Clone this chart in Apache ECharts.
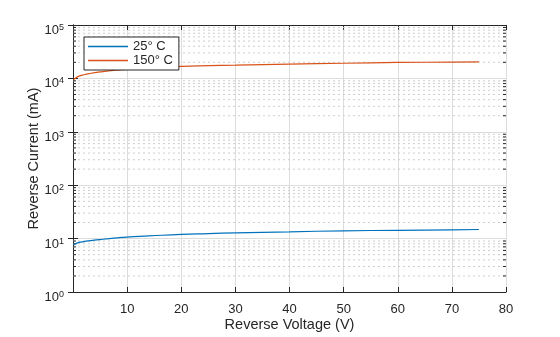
<!DOCTYPE html>
<html>
<head>
<meta charset="utf-8">
<script src="https://cdn.jsdelivr.net/npm/echarts@6/dist/echarts.min.js"></script>
<style>html,body{margin:0;padding:0;background:#fff}#c{width:560px;height:337px}</style>
</head>
<body>
<div id="c"></div>
<script>
// Data
const voltage = [0.1, 0.5, 1, 2, 3, 5, 8, 10, 14, 20, 25, 30, 40, 50, 60, 70, 75];
const current25 = [7.6, 8.0, 8.4, 8.8, 9.1, 9.6, 10.3, 10.7, 11.2, 12.0, 12.4, 12.8, 13.4, 14.0, 14.3, 14.6, 14.8];
const current150 = [9450, 10200, 10900, 11700, 12300, 13200, 14300, 14800, 15700, 16800, 17300, 17700, 18500, 19200, 19900, 20200, 20400];
const seriesNames = ['25° C', '150° C'];
const xTicks = [0, 10, 20, 30, 40, 50, 60, 70, 80];
const yDecades = [0, 1, 2, 3, 4, 5];
const minorMultipliers = [2, 3, 4, 5, 6, 7, 8, 9];

const minorValues = [];
for (let k = 0; k < 5; k++) {
  for (const m of minorMultipliers) minorValues.push([0, m * Math.pow(10, k)]);
}

const axisColor = '#262626';
const font = 'Liberation Sans, Arial, Helvetica, sans-serif';

const chart = echarts.init(document.getElementById('c'), null, {renderer: 'canvas'});
const zip = (xs, ys) => xs.map((x, i) => [x, ys[i]]);

const option = {
  animation: false,
  backgroundColor: '#fff',
  textStyle: {fontFamily: font},
  grid: {left: 73, right: 54, top: 25, bottom: 39, containLabel: false},
  legend: {
    data: seriesNames.map(n => ({name: n, icon: 'rect'})),
    orient: 'vertical',
    left: 84, top: 37,
    itemWidth: 40, itemHeight: 1.5, itemGap: 1,
    backgroundColor: '#fff',
    borderColor: axisColor, borderWidth: 1,
    padding: [3, 6, 3, 4],
    textStyle: {fontSize: 13, color: axisColor, fontFamily: font}
  },
  xAxis: [{
    type: 'value', min: xTicks[0], max: xTicks[xTicks.length - 1], interval: 10,
    name: 'Reverse Voltage (V)', nameLocation: 'middle', nameGap: 25, nameMoveOverlap: false,
    nameTextStyle: {fontSize: 14.5, color: axisColor, fontFamily: font},
    axisLine: {show: true, lineStyle: {color: axisColor, width: 1}},
    axisTick: {show: true, inside: true, length: 5, lineStyle: {color: axisColor}},
    axisLabel: {fontSize: 13, color: axisColor, margin: 11, fontFamily: font,
      formatter: v => (v === 0 ? '' : String(v))},
    splitLine: {show: true, lineStyle: {color: '#dcdcdc', width: 1}}
  }, {
    type: 'value', position: 'top', min: xTicks[0], max: xTicks[xTicks.length - 1], interval: 10,
    axisLine: {show: true, lineStyle: {color: axisColor, width: 1}},
    axisTick: {show: true, inside: true, length: 5, lineStyle: {color: axisColor}},
    axisLabel: {show: false},
    splitLine: {show: false}
  }],
  yAxis: [{
    type: 'log', logBase: 10, min: 1, max: 100000,
    name: 'Reverse Current (mA)', nameLocation: 'middle', nameGap: 32, nameMoveOverlap: false,
    nameTextStyle: {fontSize: 14.5, color: axisColor, fontFamily: font},
    axisLine: {show: true, lineStyle: {color: axisColor, width: 1}},
    axisTick: {show: true, inside: true, length: 5, lineStyle: {color: axisColor}},
    axisLabel: {
      fontSize: 13, color: axisColor, margin: 9, fontFamily: font,
      padding: [11, 0, 0, 0],
      formatter: v => '{b|10}{s|' + Math.round(Math.log10(v)) + '}',
      rich: {
        b: {fontSize: 13, color: axisColor, fontFamily: font, lineHeight: 15},
        s: {fontSize: 9, color: axisColor, fontFamily: font, verticalAlign: 'top', lineHeight: 15, padding: [0, 0, 6, 0]}
      }
    },
    splitLine: {show: true, lineStyle: {color: '#dcdcdc', width: 1}}
  }, {
    type: 'log', logBase: 10, min: 1, max: 100000, position: 'right',
    axisLine: {show: true, lineStyle: {color: axisColor, width: 1}},
    axisTick: {show: true, inside: true, length: 5, lineStyle: {color: axisColor}},
    axisLabel: {show: false},
    splitLine: {show: false}
  }],
  series: [{
    type: 'custom',
    silent: true,
    z: 1,
    xAxisIndex: 0, yAxisIndex: 0,
    data: minorValues,
    renderItem: function (params, api) {
      const y = api.coord([0, api.value(1)])[1];
      const cs = params.coordSys;
      const x0 = cs.x, x1 = cs.x + cs.width;
      return {
        type: 'group',
        children: [
          {type: 'line', shape: {x1: x0, y1: y, x2: x1, y2: y},
            style: {stroke: '#cdcdcd', lineWidth: 1, lineDash: [2, 3]}},
          {type: 'line', shape: {x1: x0, y1: y, x2: x0 + 3, y2: y},
            style: {stroke: axisColor, lineWidth: 1}},
          {type: 'line', shape: {x1: x1 - 3, y1: y, x2: x1, y2: y},
            style: {stroke: axisColor, lineWidth: 1}}
        ]
      };
    }
  }, {
    name: seriesNames[0], type: 'line', xAxisIndex: 0, yAxisIndex: 0,
    data: zip(voltage, current25), smooth: true, showSymbol: false, symbol: 'none', z: 3,
    lineStyle: {color: '#0072BD', width: 1.2}, itemStyle: {color: '#0072BD'}
  }, {
    name: seriesNames[1], type: 'line', xAxisIndex: 0, yAxisIndex: 0,
    data: zip(voltage, current150), smooth: true, showSymbol: false, symbol: 'none', z: 3,
    lineStyle: {color: '#D95319', width: 1.2}, itemStyle: {color: '#D95319'}
  }]
};
chart.setOption(option);
</script>
</body>
</html>
